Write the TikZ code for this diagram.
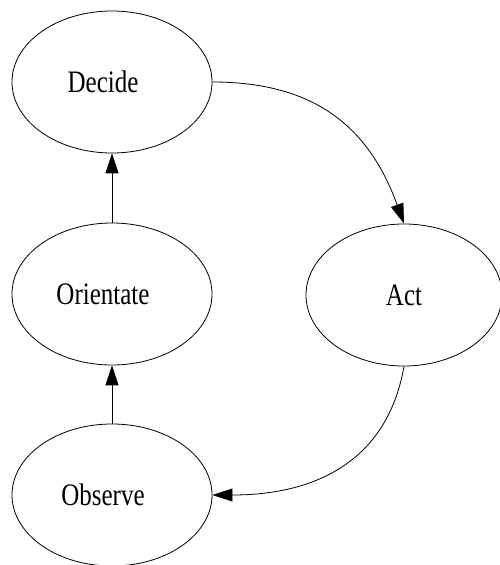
\documentclass[tikz,border=0pt]{standalone}
\usepackage{fontspec}
\setmainfont{Liberation Serif}
\usetikzlibrary{shapes.geometric,arrows.meta}
\tikzset{
  state/.style={ellipse, draw, line width=0.8pt, inner sep=0pt,
    minimum width=200pt, minimum height=142pt,
    font=\fontsize{25}{25}\selectfont},
  flow/.style={line width=1pt, -{Triangle[length=20pt,width=13pt]}},
  curved/.style={line width=0.8pt, -{Triangle[length=20pt,width=13pt]}}
}
% label squeezed vertically, nudged left by kern on its right
\newcommand{\lbl}[2]{\scalebox{1}[1.25]{#1}\kern#2pt}
\begin{document}
\begin{tikzpicture}[x=1pt,y=-1pt]
  \useasboundingbox (0,0) rectangle (499,565);
  \node[state] (decide) at (112,82) {\lbl{Decide}{18}};
  \node[state] (orient) at (112,294) {\lbl{Orientate}{18}};
  \node[state] (observe) at (112,495) {\lbl{Observe}{18}};
  \node[state, minimum width=196pt] (act) at (404,295) {\lbl{Act}{0}};

  \draw[flow] (orient) -- (decide);
  \draw[flow] (observe) -- (orient);
  \draw[curved] (decide.east) to[out=0, in=110, looseness=1.1] (act.north);
  \draw[curved] (act.south) to[out=-100, in=0, looseness=1.1] (observe.east);
\end{tikzpicture}
\end{document}
